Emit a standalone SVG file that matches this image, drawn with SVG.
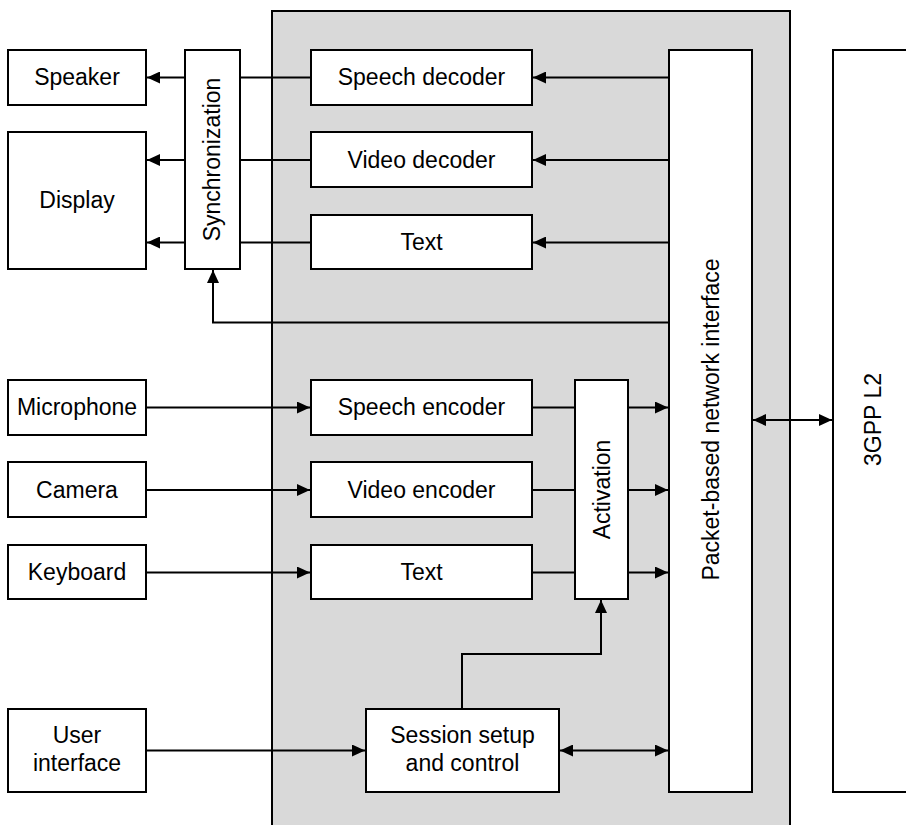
<svg xmlns="http://www.w3.org/2000/svg" width="906" height="825" viewBox="0 0 906 825">
<style>
.box{fill:#fff;stroke:#000;stroke-width:2}
.t{font-family:"Liberation Sans",Arial,sans-serif;font-size:23px;fill:#000;text-anchor:middle}
.c{fill:none;stroke:#000;stroke-width:2}
</style>
<defs>
<marker id="ah" viewBox="0 0 13 12" refX="13" refY="6" markerWidth="13" markerHeight="12" markerUnits="userSpaceOnUse" orient="auto-start-reverse">
<path d="M0,0 L13,6 L0,12 Z" fill="#000"/>
</marker>
</defs>
<rect id="terminal" x="272" y="11" width="518" height="830" fill="#d9d9d9" stroke="#000" stroke-width="2"/>
<g id="connectors">
<path class="c" d="M185,77.5 H147" marker-end="url(#ah)"/>
<path class="c" d="M185,160 H147" marker-end="url(#ah)"/>
<path class="c" d="M185,242.5 H147" marker-end="url(#ah)"/>
<path class="c" d="M311,77.5 H240"/>
<path class="c" d="M311,160 H240"/>
<path class="c" d="M311,242.5 H240"/>
<path class="c" d="M669,77.5 H533" marker-end="url(#ah)"/>
<path class="c" d="M669,160 H533" marker-end="url(#ah)"/>
<path class="c" d="M669,242.5 H533" marker-end="url(#ah)"/>
<path class="c" d="M669,322.5 H213 V270" marker-end="url(#ah)"/>
<path class="c" d="M146,407.5 H310" marker-end="url(#ah)"/>
<path class="c" d="M146,490 H310" marker-end="url(#ah)"/>
<path class="c" d="M146,572.5 H310" marker-end="url(#ah)"/>
<path class="c" d="M532,407.5 H575"/>
<path class="c" d="M532,490 H575"/>
<path class="c" d="M532,572.5 H575"/>
<path class="c" d="M628,407.5 H668" marker-end="url(#ah)"/>
<path class="c" d="M628,490 H668" marker-end="url(#ah)"/>
<path class="c" d="M628,572.5 H668" marker-end="url(#ah)"/>
<path class="c" d="M462,709 V654 H601 V600" marker-end="url(#ah)"/>
<path class="c" d="M146,750.5 H365" marker-end="url(#ah)"/>
<path class="c" d="M560,750.5 H668" marker-start="url(#ah)" marker-end="url(#ah)"/>
<path class="c" d="M753,420 H832" marker-start="url(#ah)" marker-end="url(#ah)"/>
</g>
<g id="speaker"><rect class="box" x="8" y="50" width="138" height="55"/><text class="t" x="77" y="85">Speaker</text></g>
<g id="display"><rect class="box" x="8" y="132" width="138" height="137"/><text class="t" x="77" y="208">Display</text></g>
<g id="synchronization"><rect class="box" x="185" y="50" width="55" height="219"/><text class="t" transform="translate(212.5,159.5) rotate(-90)" x="0" y="7">Synchronization</text></g>
<g id="speech-decoder"><rect class="box" x="311" y="50" width="221" height="55"/><text class="t" x="421.5" y="85">Speech decoder</text></g>
<g id="video-decoder"><rect class="box" x="311" y="132" width="221" height="55"/><text class="t" x="421.5" y="167.5">Video decoder</text></g>
<g id="text-decoder"><rect class="box" x="311" y="215" width="221" height="54"/><text class="t" x="421.5" y="250">Text</text></g>
<g id="packet-interface"><rect class="box" x="669" y="50" width="83" height="742"/><text class="t" transform="translate(710.5,419.5) rotate(-90)" x="0" y="8">Packet-based network interface</text></g>
<g id="l2"><rect class="box" x="833" y="50" width="90" height="742"/><text class="t" transform="translate(873,419.5) rotate(-90)" x="0" y="8">3GPP L2</text></g>
<g id="microphone"><rect class="box" x="8" y="380" width="138" height="55"/><text class="t" x="77" y="415">Microphone</text></g>
<g id="camera"><rect class="box" x="8" y="462" width="138" height="55"/><text class="t" x="77" y="497.5">Camera</text></g>
<g id="keyboard"><rect class="box" x="8" y="545" width="138" height="54"/><text class="t" x="77" y="580">Keyboard</text></g>
<g id="speech-encoder"><rect class="box" x="311" y="380" width="221" height="55"/><text class="t" x="421.5" y="415">Speech encoder</text></g>
<g id="video-encoder"><rect class="box" x="311" y="462" width="221" height="55"/><text class="t" x="421.5" y="497.5">Video encoder</text></g>
<g id="text-encoder"><rect class="box" x="311" y="545" width="221" height="54"/><text class="t" x="421.5" y="580">Text</text></g>
<g id="activation"><rect class="box" x="575" y="380" width="53" height="219"/><text class="t" transform="translate(601.5,489.5) rotate(-90)" x="0" y="8">Activation</text></g>
<g id="user-interface"><rect class="box" x="8" y="709" width="138" height="83"/><text class="t" x="77" y="743">User</text><text class="t" x="77" y="771">interface</text></g>
<g id="session"><rect class="box" x="366" y="709" width="193" height="83"/><text class="t" x="462.5" y="743">Session setup</text><text class="t" x="462.5" y="771">and control</text></g>
</svg>
